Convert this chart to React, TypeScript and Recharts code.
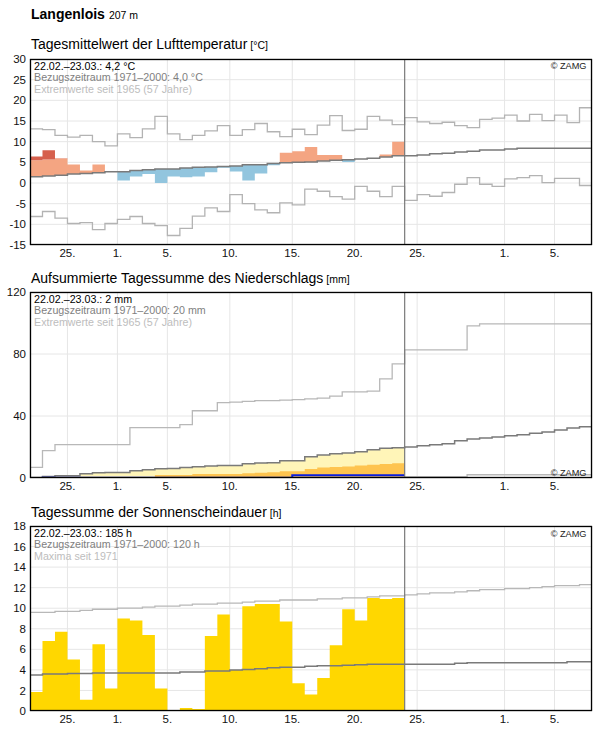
import React from "react";
import {
  ComposedChart,
  Area,
  Line,
  XAxis,
  YAxis,
  CartesianGrid,
  ReferenceLine,
} from "recharts";

// #region Data (one value per day, 22.02. = day 0)
const DAYS = 45;
const TODAY = 30; // end of 23.03.
const tickDays = [3, 7, 11, 16, 21, 26, 31, 38, 42];
const tickLabels = ["25.", "1.", "5.", "10.", "15.", "20.", "25.", "1.", "5."];

// Temperature [°C]
const tempMax = [
  13.1, 12.9, 11.5, 11.1, 11.5, 10.0, 9.0, 11.9, 11.0, 13.1, 16.1, 11.9, 10.5,
  11.5, 12.6, 13.9, 11.5, 12.9, 14.4, 12.4, 11.2, 13.0, 11.7, 14.0, 16.3, 12.7,
  13.0, 16.1, 15.2, 14.1, 15.8, 14.8, 14.4, 14.7, 13.9, 13.4, 15.4, 15.7, 16.4,
  15.0, 16.6, 15.1, 16.4, 14.6, 18.2,
];
const tempMin = [
  -8.1, -6.9, -8.5, -9.8, -9.6, -11.3, -9.8, -8.8, -8.1, -9.8, -10.3, -12.7,
  -11.0, -8.0, -6.0, -6.9, -2.8, -5.0, -6.5, -7.2, -4.8, -5.3, -1.5, -2.0, -3.3,
  -3.9, -0.8, -2.0, -3.3, -0.8, -4.2, -2.8, -3.2, -2.3, -0.3, 1.3, -0.3, -0.8,
  1.0, 1.3, 1.8, 0.1, 1.1, 1.1, -0.6,
];
const tempClim = [
  1.5, 1.7, 1.9, 2.2, 2.3, 2.5, 2.7, 2.7, 3.0, 3.2, 3.4, 3.4, 3.6, 3.8, 3.9, 4.0,
  4.1, 4.4, 4.4, 4.7, 4.9, 5.0, 5.1, 5.3, 5.5, 5.6, 5.8, 6.0, 6.3, 6.6, 6.6, 6.8,
  7.1, 7.2, 7.5, 7.7, 8.0, 8.0, 8.2, 8.4, 8.4, 8.4, 8.4, 8.4, 8.4,
];
const tempDay = [
  6.4, 7.9, 6.0, 4.5, 3.0, 4.5, 2.7, 0.6, 1.6, 2.2, 0.0, 1.6, 1.4, 1.6, 2.6, 3.7,
  2.8, 0.6, 2.3, 4.3, 7.3, 7.7, 8.7, 6.8, 6.8, 5.1, 5.8, 6.0, 6.9, 10.0,
];
const WARM_BAND = 4; // above this anomaly the bar turns dark red

// Precipitation, accumulated [mm]
const precMax = [
  6.9, 17.6, 21.5, 21.5, 21.5, 21.5, 21.5, 21.5, 32.5, 32.5, 32.5, 32.5, 34.4,
  43.4, 43.4, 48.6, 49.0, 49.5, 49.9, 49.9, 50.3, 50.6, 51.1, 51.5, 52.8, 55.6,
  55.6, 56.0, 64.0, 73.6, 82.6, 82.6, 82.6, 82.6, 82.6, 98.1, 99.4, 99.4, 99.4,
  99.4, 99.4, 99.4, 99.4, 99.4, 99.4,
];
const precMin = [
  0, 0, 0, 0, 0, 0, 0, 0, 0, 0, 0, 0, 0, 0, 0, 0, 0, 0, 0, 0, 0, 0.4, 0.4, 0.4,
  0.4, 0.4, 0.4, 0.4, 0.4, 0.4, 0.9, 0.9, 0.9, 0.9, 0.9, 2.1, 2.1, 2.1, 2.1, 2.1,
  2.1, 2.1, 2.1, 2.1, 2.1,
];
const precClim = [
  0.4, 1.0, 1.5, 1.5, 2.7, 3.4, 3.6, 3.6, 4.7, 5.3, 6.0, 6.1, 6.8, 7.3, 7.8, 8.0,
  8.0, 9.2, 9.6, 9.9, 11.1, 11.2, 13.7, 14.9, 15.6, 16.2, 17.0, 18.2, 19.2, 19.5,
  20.0, 20.8, 21.5, 22.1, 24.0, 25.1, 25.8, 26.4, 27.3, 27.9, 28.8, 29.6, 30.9,
  32.2, 33.0,
];
const precDry = [
  0, 0, 0, 0, 0, 0, 0, 0, 0.7, 0.7, 1.9, 1.9, 1.9, 2.6, 2.6, 2.6, 2.6, 3.0, 3.4,
  3.7, 4.3, 4.3, 5.8, 6.7, 7.1, 7.5, 8.0, 8.6, 9.0, 9.5,
];
const precSum = [
  0, 0.1, 0.1, 0.1, 0.1, 0.1, 0.1, 0.1, 0.1, 0.1, 0.1, 0.1, 0.1, 0.1, 0.1, 0.1,
  0.1, 0.1, 0.1, 0.1, 0.1, 1.8, 1.8, 1.8, 1.8, 1.8, 1.8, 1.8, 1.8, 1.8,
];

// Sunshine duration [h]
const sunMax = [
  9.6, 9.6, 9.7, 9.7, 9.8, 9.9, 9.9, 10.0, 10.0, 10.1, 10.2, 10.2, 10.3, 10.4,
  10.4, 10.5, 10.5, 10.6, 10.7, 10.7, 10.8, 10.8, 10.8, 10.9, 10.9, 11.0, 11.0,
  11.1, 11.2, 11.2, 11.3, 11.4, 11.5, 11.5, 11.6, 11.7, 11.8, 11.8, 11.9, 11.9,
  12.0, 12.1, 12.2, 12.2, 12.3,
];
const sunClim = [
  3.5, 3.6, 3.6, 3.65, 3.65, 3.7, 3.7, 3.7, 3.7, 3.7, 3.7, 3.7, 3.8, 3.8, 3.9,
  3.9, 4.0, 4.05, 4.1, 4.2, 4.25, 4.25, 4.35, 4.4, 4.4, 4.45, 4.5, 4.55, 4.55,
  4.55, 4.55, 4.55, 4.55, 4.55, 4.65, 4.7, 4.7, 4.7, 4.7, 4.7, 4.7, 4.7, 4.7,
  4.8, 4.8,
];
const sunDay = [
  1.85, 6.8, 7.7, 5.0, 1.1, 6.5, 2.2, 9.0, 8.8, 7.4, 2.2, 0, 0.3, 0.2, 7.3, 9.4,
  4.0, 10.2, 10.4, 10.4, 8.7, 2.7, 1.6, 3.2, 6.4, 9.9, 8.8, 11.0, 10.9, 11.0,
];
// #endregion

const FONT = '"Liberation Sans", Arial, Helvetica, sans-serif';
const W = 596;
const PLOT_L = 30;
const PLOT_R = 592;
const AXIS_H = 20;
const PAD_TOP = 8;

// value for step row i: last row repeats the last value, beyond that null
const at = (arr: number[], i: number): number | null =>
  i < arr.length ? arr[i] : i === arr.length ? arr[arr.length - 1] : null;

const rowIdx = Array.from({ length: DAYS + 1 }, (_, i) => i);

const tempRows = rowIdx.map((i) => {
  const j = Math.min(i, tempDay.length - 1);
  const measured = i <= TODAY;
  const c = tempClim[j];
  const v = tempDay[j];
  const cap = c + WARM_BAND;
  return {
    x: i,
    max: at(tempMax, i),
    min: at(tempMin, i),
    clim: at(tempClim, i),
    warm: measured ? (v > c ? [c, Math.min(v, cap)] : [c, c]) : null,
    hot: measured ? (v > cap ? [cap, v] : [cap, cap]) : null,
    cold: measured ? (v < c ? [v, c] : [c, c]) : null,
  };
});

const precRows = rowIdx.map((i) => ({
  x: i,
  max: at(precMax, i),
  min: at(precMin, i),
  clim: at(precClim, i),
  normal: i <= TODAY ? at(precClim, Math.min(i, TODAY - 1)) : null,
  dry: at(precDry, i),
  sum: at(precSum, i),
}));

const sunRows = rowIdx.map((i) => ({
  x: i,
  max: at(sunMax, i),
  clim: at(sunClim, i),
  sun: at(sunDay, i),
}));

const tickStyle = { fontSize: 11.5, fill: "#111", fontFamily: FONT };

type PanelProps = {
  top: number;
  plotH: number;
  data: any[];
  yDomain: [number, number];
  yTicks: number[];
  children: React.ReactNode;
};

function Panel({ top, plotH, data, yDomain, yTicks, children }: PanelProps) {
  return (
    <div style={{ position: "absolute", left: 0, top: top - PAD_TOP }}>
      <ComposedChart
        width={W}
        height={plotH + AXIS_H + PAD_TOP}
        data={data}
        margin={{ top: PAD_TOP, right: W - PLOT_R, bottom: 0, left: 0 }}
      >
        <CartesianGrid stroke="#e6e6e6" strokeWidth={1} />
        <XAxis
          type="number"
          dataKey="x"
          domain={[0, DAYS]}
          ticks={tickDays}
          interval={0}
          tickFormatter={(v: number) => tickLabels[tickDays.indexOf(v)]}
          tickLine={false}
          axisLine={false}
          tickSize={2}
          tickMargin={2}
          height={AXIS_H}
          tick={tickStyle}
          allowDataOverflow
        />
        <YAxis
          type="number"
          domain={yDomain}
          ticks={yTicks}
          interval={0}
          tickLine={false}
          axisLine={false}
          tickSize={2}
          tickMargin={2}
          width={PLOT_L}
          tick={tickStyle}
          allowDataOverflow
        />
        {children}
        <ReferenceLine x={TODAY} stroke="#7a7a7a" strokeWidth={1.2} />
      </ComposedChart>
    </div>
  );
}

const stepLine = (key: string, color: string, width: number) => (
  <Line
    key={key}
    type="stepAfter"
    dataKey={key}
    stroke={color}
    strokeWidth={width}
    dot={false}
    activeDot={false}
    isAnimationActive={false}
  />
);

const stepArea = (key: string, color: string) => (
  <Area
    key={key}
    type="stepAfter"
    dataKey={key}
    fill={color}
    fillOpacity={1}
    stroke="none"
    dot={false}
    activeDot={false}
    isAnimationActive={false}
  />
);

const panels = [
  {
    top: 59,
    plotH: 186,
    title: "Tagesmittelwert der Lufttemperatur",
    unit: "[°C]",
    titleY: 49.3,
    lines: [
      "22.02.–23.03.: 4,2 °C",
      "Bezugszeitraum 1971–2000: 4,0 °C",
      "Extremwerte seit 1965 (57 Jahre)",
    ],
    zamgY: 68.5,
  },
  {
    top: 292,
    plotH: 186,
    title: "Aufsummierte Tagessumme des Niederschlags",
    unit: "[mm]",
    titleY: 283.3,
    lines: [
      "22.02.–23.03.: 2 mm",
      "Bezugszeitraum 1971–2000: 20 mm",
      "Extremwerte seit 1965 (57 Jahre)",
    ],
    zamgY: 475.5,
  },
  {
    top: 526,
    plotH: 185,
    title: "Tagessumme der Sonnenscheindauer",
    unit: "[h]",
    titleY: 517.3,
    lines: [
      "22.02.–23.03.: 185 h",
      "Bezugszeitraum 1971–2000: 120 h",
      "Maxima seit 1971",
    ],
    zamgY: 536.5,
  },
];

const legendColors = ["#000", "#7f7f7f", "#bdbdbd"];

export default function App() {
  const [p1, p2, p3] = panels;
  return (
    <div
      style={{
        position: "absolute",
        left: 0,
        top: 0,
        width: W,
        height: 729,
        background: "#fff",
        fontFamily: FONT,
        overflow: "hidden",
      }}
    >
      <Panel top={p1.top} plotH={p1.plotH} data={tempRows} yDomain={[-15, 30]} yTicks={[-15, -10, -5, 0, 5, 10, 15, 20, 25, 30]}>
        {stepArea("warm", "#f4a582")}
        {stepArea("hot", "#d6604d")}
        {stepArea("cold", "#92c5de")}
        {stepLine("max", "#b3b3b3", 1.3)}
        {stepLine("min", "#b3b3b3", 1.3)}
        {stepLine("clim", "#7a7a7a", 1.5)}
      </Panel>

      <Panel top={p2.top} plotH={p2.plotH} data={precRows} yDomain={[0, 120]} yTicks={[0, 40, 80, 120]}>
        {stepArea("normal", "#fff5b8")}
        {stepArea("dry", "#fec44f")}
        {stepLine("max", "#b8b8b8", 1.3)}
        {stepLine("min", "#b8b8b8", 1.3)}
        {stepLine("clim", "#7a7a7a", 1.5)}
        {stepLine("sum", "#0a1ee0", 2)}
      </Panel>

      <Panel top={p3.top} plotH={p3.plotH} data={sunRows} yDomain={[0, 18]} yTicks={[0, 2, 4, 6, 8, 10, 12, 14, 16, 18]}>
        {stepArea("sun", "#ffd700")}
        {stepLine("max", "#b8b8b8", 1.3)}
        {stepLine("clim", "#7a7a7a", 1.5)}
      </Panel>

      <svg
        width={W}
        height={729}
        style={{ position: "absolute", left: 0, top: 0, pointerEvents: "none" }}
        fontFamily={FONT}
      >
        <text x={31} y={18.5} fontSize={14} fontWeight="bold" fill="#000">
          Langenlois
          <tspan fontSize={10.5} fontWeight="normal" dx={4}>207 m</tspan>
        </text>
        {panels.map((p) => (
          <g key={p.title}>
            <text x={31} y={p.titleY} fontSize={14} fill="#000">
              {p.title}
              <tspan fontSize={10.5} dx={3}>{p.unit}</tspan>
            </text>
            <rect
              x={PLOT_L + 0.5}
              y={p.top + 0.5}
              width={PLOT_R - PLOT_L - 1}
              height={p.plotH - 1}
              fill="none"
              stroke="#000"
              strokeWidth={1.3}
            />
            {p.lines.map((t, k) => (
              <text key={t} x={34} y={p.top + 10.5 + k * 11.5} fontSize={10.7} fill={legendColors[k]}>
                {t}
              </text>
            ))}
            <text x={586.5} y={p.zamgY} fontSize={9.2} fill="#222" textAnchor="end">
              © ZAMG
            </text>
          </g>
        ))}
      </svg>
    </div>
  );
}
